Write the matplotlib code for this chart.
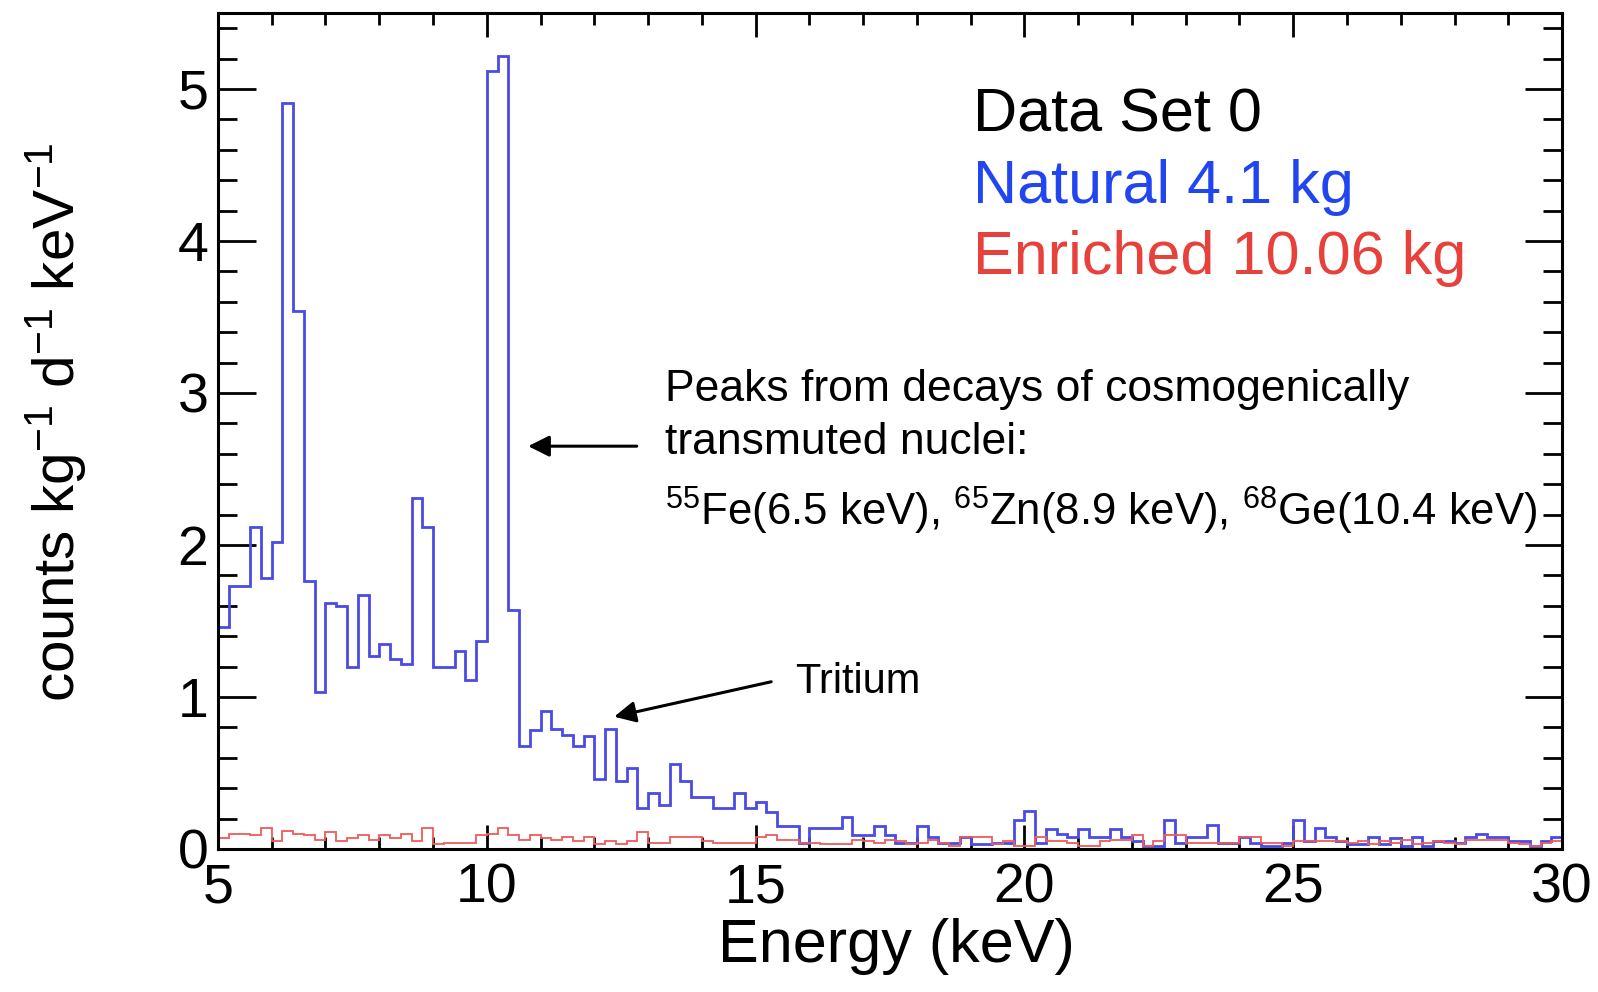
import matplotlib
matplotlib.use('Agg')
import matplotlib.pyplot as plt
from matplotlib.ticker import MultipleLocator
import numpy as np

# Histogramas de energia (bins de 0.2 keV entre 5 e 30 keV)
e_min = 5.0
e_max = 30.0
n_bins = 125

# Detectores naturais, 4.1 kg
natural = [
    1.46, 1.73, 1.73, 2.12, 1.78, 2.02, 4.91, 3.54, 1.76, 1.03,
    1.62, 1.60, 1.20, 1.67, 1.27, 1.35, 1.25, 1.22, 2.31, 2.12,
    1.20, 1.20, 1.30, 1.11, 1.37, 5.12, 5.22, 1.57, 0.68, 0.78,
    0.91, 0.79, 0.75, 0.68, 0.74, 0.46, 0.79, 0.45, 0.53, 0.27,
    0.37, 0.29, 0.56, 0.45, 0.34, 0.34, 0.27, 0.27, 0.37, 0.27,
    0.31, 0.24, 0.15, 0.15, 0.04, 0.14, 0.14, 0.14, 0.21, 0.09,
    0.09, 0.15, 0.09, 0.04, 0.04, 0.15, 0.08, 0.04, 0.04, 0.08,
    0.03, 0.03, 0.04, 0.04, 0.19, 0.25, 0.04, 0.13, 0.10, 0.08,
    0.13, 0.08, 0.08, 0.13, 0.08, 0.05, 0.02, 0.02, 0.19, 0.04,
    0.08, 0.08, 0.16, 0.04, 0.04, 0.08, 0.04, 0.02, 0.02, 0.04,
    0.19, 0.05, 0.14, 0.08, 0.05, 0.03, 0.03, 0.08, 0.03, 0.07,
    0.02, 0.08, 0.02, 0.05, 0.05, 0.04, 0.08, 0.10, 0.08, 0.08,
    0.05, 0.05, 0.02, 0.05, 0.08,
]

# Detectores enriquecidos, 10.06 kg
enriquecido = [
    0.07, 0.10, 0.10, 0.09, 0.14, 0.05, 0.12, 0.10, 0.09, 0.06,
    0.11, 0.05, 0.07, 0.09, 0.06, 0.09, 0.07, 0.10, 0.05, 0.14,
    0.03, 0.04, 0.04, 0.04, 0.09, 0.10, 0.14, 0.09, 0.06, 0.09,
    0.07, 0.06, 0.08, 0.05, 0.08, 0.03, 0.05, 0.03, 0.05, 0.11,
    0.04, 0.04, 0.08, 0.08, 0.08, 0.05, 0.04, 0.04, 0.04, 0.04,
    0.08, 0.09, 0.06, 0.06, 0.04, 0.04, 0.03, 0.03, 0.03, 0.06,
    0.05, 0.04, 0.06, 0.05, 0.03, 0.04, 0.06, 0.04, 0.02, 0.08,
    0.08, 0.08, 0.03, 0.05, 0.02, 0.02, 0.08, 0.05, 0.05, 0.04,
    0.02, 0.02, 0.05, 0.06, 0.06, 0.09, 0.02, 0.05, 0.09, 0.09,
    0.04, 0.04, 0.04, 0.04, 0.04, 0.08, 0.08, 0.04, 0.04, 0.02,
    0.05, 0.05, 0.05, 0.05, 0.05, 0.04, 0.05, 0.03, 0.05, 0.04,
    0.06, 0.03, 0.04, 0.05, 0.04, 0.03, 0.06, 0.06, 0.06, 0.06,
    0.04, 0.03, 0.02, 0.04, 0.05,
]

x_ticks = [5, 10, 15, 20, 25, 30]
y_ticks = [0, 1, 2, 3, 4, 5]

legenda = ['Data Set 0', 'Natural 4.1 kg', 'Enriched 10.06 kg']
isotopos = r'$^{55}$Fe(6.5 keV), $^{65}$Zn(8.9 keV), $^{68}$Ge(10.4 keV)'

plt.rcParams['font.family'] = ['Liberation Sans', 'DejaVu Sans']
plt.rcParams['mathtext.fontset'] = 'custom'
plt.rcParams['mathtext.rm'] = 'Liberation Sans'
plt.rcParams['mathtext.it'] = 'Liberation Sans:italic'
plt.rcParams['mathtext.bf'] = 'Liberation Sans:bold'


def plotar_espectro():
    fig = plt.figure(figsize=(15.98, 9.92), dpi=100)
    ax = fig.add_axes([0.1364, 0.1442, 0.8411, 0.8427])

    bordas = np.linspace(e_min, e_max, n_bins + 1)
    ax.stairs(natural, bordas, baseline=0, color='#4a4ae6', lw=2.0, zorder=2)
    ax.stairs(enriquecido, bordas, baseline=0, color='#f05a5a', lw=1.3, zorder=2.1)

    ax.set_xlim(e_min, e_max)
    ax.set_ylim(0, 5.5)
    ax.set_xticks(x_ticks)
    ax.set_yticks(y_ticks)
    ax.xaxis.set_minor_locator(MultipleLocator(1))
    ax.yaxis.set_minor_locator(MultipleLocator(0.2))

    # ticks para dentro nos quatro lados, estilo ROOT
    ax.tick_params(axis='both', which='both', direction='in',
                   top=True, right=True, width=2.0, colors='black')
    ax.tick_params(axis='x', which='major', length=17, pad=10, labelsize=40)
    ax.tick_params(axis='x', which='minor', length=8.5)
    ax.tick_params(axis='y', which='major', length=27, pad=7, labelsize=40)
    ax.tick_params(axis='y', which='minor', length=14)
    for s in ax.spines.values():
        s.set_linewidth(2.2)
        s.set_zorder(3)

    ax.set_xlabel('Energy (keV)', fontsize=44)
    ax.xaxis.set_label_coords(0.505, -0.082)
    ax.set_ylabel(r'counts kg$^{-1}$ d$^{-1}$ keV$^{-1}$', fontsize=42, va='center')
    ax.yaxis.set_label_coords(-0.121, 0.51)

    # legenda em texto colorido
    cores = ['black', '#2146ef', '#e8403a']
    ys = [4.72, 4.25, 3.78]
    for txt, cor, y in zip(legenda, cores, ys):
        ax.text(19.05, y, txt, color=cor, fontsize=44, va='baseline')

    # anotacoes dos picos
    ax.text(13.31, 2.95, 'Peaks from decays of cosmogenically', fontsize=32, va='baseline')
    ax.text(13.31, 2.60, 'transmuted nuclei:', fontsize=32, va='baseline')
    ax.text(13.31, 2.13, isotopos, fontsize=31.5, va='baseline')
    ax.annotate('', xy=(10.77, 2.65), xytext=(12.79, 2.65),
                arrowprops=dict(arrowstyle='-|>', color='black', lw=2.2,
                                mutation_scale=32, shrinkA=0, shrinkB=0))

    ax.text(15.73, 1.025, 'Tritium', fontsize=30, va='baseline')
    ax.annotate('', xy=(12.37, 0.87), xytext=(15.29, 1.10),
                arrowprops=dict(arrowstyle='-|>', color='black', lw=2.2,
                                mutation_scale=32, shrinkA=0, shrinkB=0))

    fig.savefig('out.png', dpi=100)


if __name__ == '__main__':
    plotar_espectro()
